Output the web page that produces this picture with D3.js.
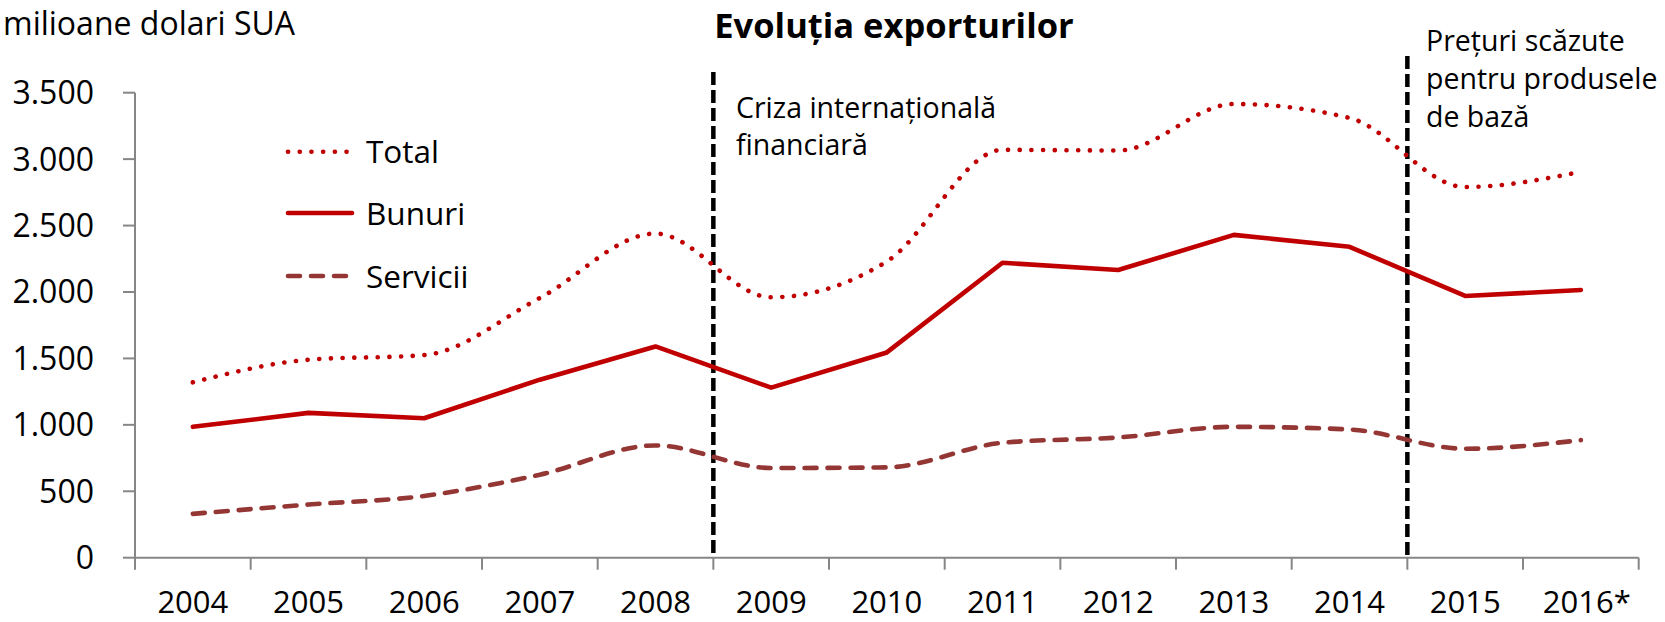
<!doctype html>
<html>
  <head>
    <script src="https://cdn.jsdelivr.net/npm/d3@7/dist/d3.min.js"></script>
    <style>
      body { margin: 0; background: #fff; }
      text { font-family: "Open Sans", sans-serif; fill: #000; }
    </style>
  </head>
  <body>
    <svg id="chart" width="1665" height="622"></svg>
    <script>
      var years = ["2004", "2005", "2006", "2007", "2008", "2009", "2010",
                   "2011", "2012", "2013", "2014", "2015", "2016*"];
      var total    = [1320, 1490, 1525, 1955, 2440, 1960, 2230, 3070, 3065, 3415, 3310, 2790, 2905];
      var bunuri   = [985, 1090, 1050, 1340, 1590, 1280, 1545, 2220, 2165, 2430, 2340, 1970, 2015];
      var servicii = [330, 400, 465, 625, 845, 675, 680, 865, 905, 985, 965, 820, 885];
      var yTicks = [0, 500, 1000, 1500, 2000, 2500, 3000, 3500];

      var svg = d3.select("#chart");
      var plotL = 135, plotR = 1638.7, plotT = 92.7, plotB = 557.7;

      var x = d3.scaleBand().domain(years).range([plotL, plotR]);
      var y = d3.scaleLinear().domain([0, 3500]).range([plotB, plotT]);
      var fmt = d3.formatLocale({decimal: ",", thousands: ".", grouping: [3], currency: ["", ""]}).format(",");

      // axes
      var axisColor = "#868686";
      svg.append("line").attr("x1", plotL).attr("x2", plotL).attr("y1", plotT).attr("y2", plotB)
        .attr("stroke", axisColor).attr("stroke-width", 2);
      svg.append("line").attr("x1", plotL).attr("x2", plotR).attr("y1", plotB).attr("y2", plotB)
        .attr("stroke", axisColor).attr("stroke-width", 2);

      svg.selectAll(".ytick").data(yTicks).enter().append("line")
        .attr("x1", plotL - 12).attr("x2", plotL)
        .attr("y1", d => y(d)).attr("y2", d => y(d))
        .attr("stroke", axisColor).attr("stroke-width", 2);
      svg.selectAll(".ylab").data(yTicks).enter().append("text")
        .attr("x", 94).attr("y", d => y(d) + 11.5)
        .attr("text-anchor", "end").style("font-size", "32px")
        .text(d => fmt(d));

      var bounds = years.map(d => x(d)).concat([plotR]);
      svg.selectAll(".xtick").data(bounds).enter().append("line")
        .attr("x1", d => d).attr("x2", d => d)
        .attr("y1", plotB).attr("y2", plotB + 12)
        .attr("stroke", axisColor).attr("stroke-width", 2);
      svg.selectAll(".xlab").data(years).enter().append("text")
        .attr("x", d => x(d) + x.bandwidth() / 2 + (d == "2016*" ? 6 : 0)).attr("y", 613)
        .attr("text-anchor", "middle").style("font-size", "31px")
        .text(d => d);

      // event markers
      var markers = [
        {at: "2009", y0: 72, lines: ["Criza internațională", "financiară"], tx: 736, ty: 118, dy: 37},
        {at: "2015", y0: 56, lines: ["Prețuri scăzute", "pentru produsele", "de bază"], tx: 1426, ty: 51, dy: 38}
      ];
      markers.forEach(function(m) {
        svg.append("line")
          .attr("x1", x(m.at)).attr("x2", x(m.at))
          .attr("y1", m.y0).attr("y2", plotB)
          .attr("stroke", "#000").attr("stroke-width", 4.5)
          .attr("stroke-dasharray", "13 5");
        m.lines.forEach(function(t, i) {
          svg.append("text").attr("x", m.tx).attr("y", m.ty + i * m.dy)
            .style("font-size", "28.5px").text(t);
        });
      });

      // series
      var cx = (d, i) => x(years[i]) + x.bandwidth() / 2;
      var smooth = d3.line().x(cx).y(d => y(d)).curve(d3.curveMonotoneX);
      var straight = d3.line().x(cx).y(d => y(d));

      var series = [
        {name: "Total", values: total, gen: smooth, color: "#C00000", dash: "0.1 11.6", ly: 151.7},
        {name: "Bunuri", values: bunuri, gen: straight, color: "#C00000", dash: null, ly: 213},
        {name: "Servicii", values: servicii, gen: smooth, color: "#943634", dash: "12 11", ly: 276}
      ];

      series.forEach(function(s) {
        svg.append("path").attr("d", s.gen(s.values))
          .attr("fill", "none").attr("stroke", s.color).attr("stroke-width", 4.6)
          .attr("stroke-linecap", "round").attr("stroke-linejoin", "round")
          .attr("stroke-dasharray", s.dash);
        svg.append("line").attr("x1", 288).attr("x2", 352).attr("y1", s.ly).attr("y2", s.ly)
          .attr("stroke", s.color).attr("stroke-width", 4.6)
          .attr("stroke-linecap", "round").attr("stroke-dasharray", s.dash);
        svg.append("text").attr("x", 366).attr("y", s.ly + 11.5)
          .style("font-size", "31.5px").text(s.name);
      });

      // titles
      svg.append("text").attr("x", 3).attr("y", 35).style("font-size", "32px").text("milioane dolari SUA");
      svg.append("text").attr("x", 894).attr("y", 38).attr("text-anchor", "middle")
        .style("font-size", "34.5px").style("font-weight", "bold").text("Evoluția exporturilor");
    </script>
  </body>
</html>
